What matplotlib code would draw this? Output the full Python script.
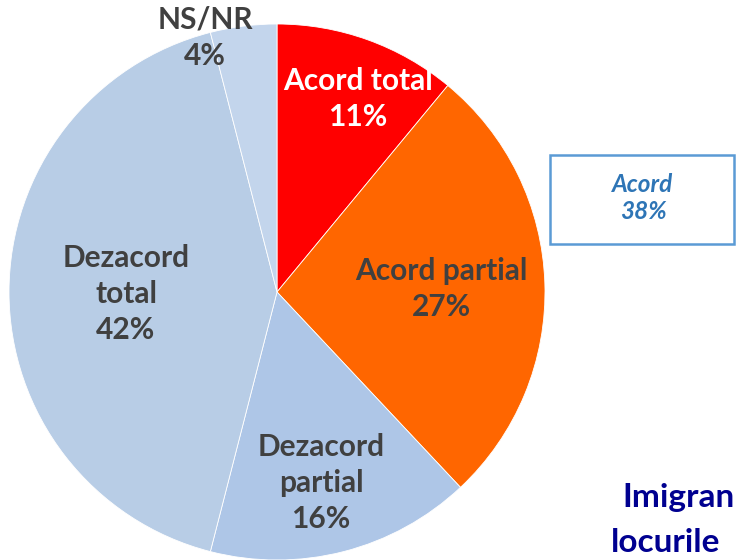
import matplotlib.pyplot as plt
from matplotlib.patches import Rectangle

# Donnees du graphique
categories = ["Acord total", "Acord partial", "Dezacord\npartial", "Dezacord\ntotal", "NS/NR"]
valeurs = [11, 27, 16, 42, 4]
couleurs = ["#FF0000", "#FF6600", "#AEC6E7", "#B8CDE6", "#C3D5EC"]
couleurs_txt = ["white", "#404040", "#404040", "#404040", "#404040"]
acord_total = valeurs[0] + valeurs[1]

W, H = 736, 560
fig = plt.figure(figsize=(W / 100, H / 100), dpi=100)
ax = fig.add_axes([0, 0, 1, 1])

cx, cy, r = 277, H - 292, 268
ax.pie(valeurs, colors=couleurs, startangle=90, counterclock=False,
       center=(cx, cy), radius=r, frame=True,
       wedgeprops=dict(edgecolor="white", linewidth=0.6))

# positions des etiquettes (pixels, depuis le haut)
pos_labels = [(358, 99), (441, 289), (321, 483), (126, 294), (205, 38)]
for cat, v, (x, y), c in zip(categories, valeurs, pos_labels, couleurs_txt):
    ax.text(x, H - y, "%s\n%d%%" % (cat, v), ha="center", va="center",
            fontsize=21.5, fontweight="bold", color=c, family="Lato",
            linespacing=1.35)

# encadre Acord
ax.add_patch(Rectangle((550, H - 244), 184, 89, fill=False,
                       edgecolor="#5B9BD5", linewidth=1.8))
ax.text(643, H - 198, "Acord\n%d%%" % acord_total, ha="center", va="center",
        fontsize=17.5, fontweight="bold", style="italic", color="#2E75B6",
        family="Lato", linespacing=1.25)

# titre (coupe a droite dans l'original)
ax.text(622, H - 498, "Imigran", ha="left", va="center", fontsize=24,
        fontweight="bold", color="#000090", family="Lato")
ax.text(611, H - 543, "locurile", ha="left", va="center", fontsize=24,
        fontweight="bold", color="#000090", family="Lato")

ax.set_xlim(0, W)
ax.set_ylim(0, H)
ax.set_aspect("equal")
ax.axis("off")
fig.savefig("out.png", dpi=100)
